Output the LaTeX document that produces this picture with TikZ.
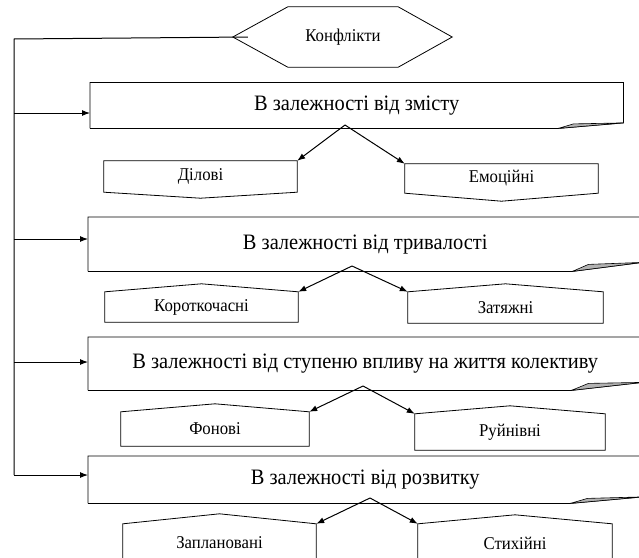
\documentclass[tikz,border=0pt]{standalone}
\usepackage{fontspec}
\setmainfont{Liberation Serif}[FakeStretch=0.93]
\usetikzlibrary{arrows.meta}
\tikzstyle{head} = [rectangle, minimum width=110pt, minimum height=60pt, inner sep=0pt, text centered, font=\fontsize{18}{18}\selectfont]
\tikzstyle{group} = [rectangle, inner sep=0pt, text centered, font=\fontsize{22}{22}\selectfont]
\tikzstyle{tag} = [rectangle, inner sep=0pt, text centered, font=\fontsize{18}{18}\selectfont]
\tikzstyle{line} = [line width=0.8pt]
\tikzstyle{fold} = [fill=black!30, draw=black, line width=0.6pt]
\tikzstyle{arrow} = [line width=1pt, -{Latex[length=8pt,width=6pt]}]

\begin{document}
\begin{tikzpicture}[x=1pt, y=-1pt]
\path[use as bounding box] (0,0) rectangle (639,557);
\clip (0,0) rectangle (639,557);

\node (konf) [head] at (343,37) {Конфлікти};

\node (cat1) [group, minimum width=533pt, minimum height=45.5pt, anchor=north west] at (90,82.5) {В залежності від змісту};
\node (cat2) [group, minimum width=554pt, minimum height=54pt, anchor=north west] at (88,217) {В залежності від тривалості};
\node (cat3) [group, minimum width=554pt, minimum height=53pt, anchor=north west] at (88,337) {В залежності від ступеню впливу на життя колективу};
\node (cat4) [group, minimum width=554pt, minimum height=47pt, anchor=north west] at (88,456) {В залежності від розвитку};

\node (dil) [tag, minimum width=193pt, minimum height=31pt] at (200.5,176.5) {Ділові};
\node (emo) [tag, minimum width=193pt, minimum height=29pt] at (501.5,178.5) {Емоційні};
\node (kor) [tag, minimum width=193pt, minimum height=30pt] at (201.5,307) {Короткочасні};
\node (zat) [tag, minimum width=195pt, minimum height=31pt] at (505.5,307.5) {Затяжні};
\node (fon) [tag, minimum width=188pt, minimum height=34pt] at (215,429) {Фонові};
\node (ruj) [tag, minimum width=190pt, minimum height=36pt] at (510,432) {Руйнівні};
\node (zap) [tag, minimum width=193pt, minimum height=38pt] at (219.5,543) {Заплановані};
\node (sty) [tag, minimum width=194pt, minimum height=38pt] at (515,543) {Стихійні};

% head and tag outlines
\draw[line] (konf.north west) -- (konf.north east) -- ([xshift=54pt]konf.east) -- (konf.south east) -- (konf.south west) -- ([xshift=-55pt]konf.west) -- cycle;
\draw[line] (dil.north west) -- (dil.north east) -- (dil.south east) -- ([yshift=-6pt]dil.south) -- (dil.south west) -- cycle;
\draw[line] (emo.north west) -- (emo.north east) -- (emo.south east) -- ([yshift=-8pt]emo.south) -- (emo.south west) -- cycle;
\draw[line] (kor.south west) -- (kor.north west) -- ([yshift=8pt]kor.north) -- (kor.north east) -- (kor.south east) -- cycle;
\draw[line] (zat.south west) -- (zat.north west) -- ([yshift=8pt]zat.north) -- (zat.north east) -- (zat.south east) -- cycle;
\draw[line] (fon.south west) -- (fon.north west) -- ([yshift=8pt]fon.north) -- (fon.north east) -- (fon.south east) -- cycle;
\draw[line] (ruj.south west) -- (ruj.north west) -- ([yshift=8pt]ruj.north) -- (ruj.north east) -- (ruj.south east) -- cycle;
\draw[line] (zap.south west) -- (zap.north west) -- ([yshift=10pt]zap.north) -- (zap.north east) -- (zap.south east);
\draw[line] (sty.south west) -- (sty.north west) -- ([yshift=9pt]sty.north) -- (sty.north east) -- (sty.south east);

% group boxes with the folded corner
\draw[line] (cat1.south west) -- (cat1.north west) -- (cat1.north east) -- ([yshift=5.5pt]cat1.south east) -- ([xshift=-65pt]cat1.south east) -- (cat1.south west);
\filldraw[fold] ([xshift=-65pt]cat1.south east) -- ([xshift=-50pt,yshift=4.5pt]cat1.south east) -- ([yshift=5.5pt]cat1.south east) -- cycle;
\draw[line] (cat2.south west) -- (cat2.north west) -- (cat2.north east) -- ([yshift=9pt]cat2.south east) -- ([xshift=-70pt]cat2.south east) -- (cat2.south west);
\filldraw[fold] ([xshift=-70pt]cat2.south east) -- ([xshift=-54pt,yshift=7pt]cat2.south east) -- ([yshift=9pt]cat2.south east) -- cycle;
\draw[line] (cat3.south west) -- (cat3.north west) -- (cat3.north east) -- ([yshift=8pt]cat3.south east) -- ([xshift=-71pt]cat3.south east) -- (cat3.south west);
\filldraw[fold] ([xshift=-71pt]cat3.south east) -- ([xshift=-54pt,yshift=7pt]cat3.south east) -- ([yshift=8pt]cat3.south east) -- cycle;
\draw[line] (cat4.south west) -- (cat4.north west) -- (cat4.north east) -- ([yshift=6.5pt]cat4.south east) -- ([xshift=-72pt]cat4.south east) -- (cat4.south west);
\filldraw[fold] ([xshift=-72pt]cat4.south east) -- ([xshift=-55pt,yshift=5pt]cat4.south east) -- ([yshift=6.5pt]cat4.south east) -- cycle;

% left trunk
\coordinate (top) at (14,39);
\coordinate (tail) at (14,475);
\draw[line width=1pt] ([xshift=-40pt]konf.west) -- (top) -- (tail);
\coordinate (a1) at (14,113);
\coordinate (a2) at (14,239);
\coordinate (a3) at (14,362);
\draw[arrow] (a1) -- (a1 -| cat1.west);
\draw[arrow] (a2) -- (a2 -| cat2.west);
\draw[arrow] (a3) -- (a3 -| cat3.west);
\draw[arrow] (tail) -- (tail -| cat4.west);

% split arrows
\coordinate (f1) at (345,125);
\coordinate (f2) at (352,266);
\coordinate (f3) at (363,386);
\coordinate (f4) at (370,498);
\draw[arrow] (f1) -- (dil.north east);
\draw[arrow] (f1) -- (emo.north west);
\draw[arrow] (f2) -- (kor.north east);
\draw[arrow] (f2) -- (zat.north west);
\draw[arrow] (f3) -- (fon.north east);
\draw[arrow] (f3) -- (ruj.north west);
\draw[arrow] (f4) -- (zap.north east);
\draw[arrow] (f4) -- (sty.north west);
\end{tikzpicture}
\end{document}
